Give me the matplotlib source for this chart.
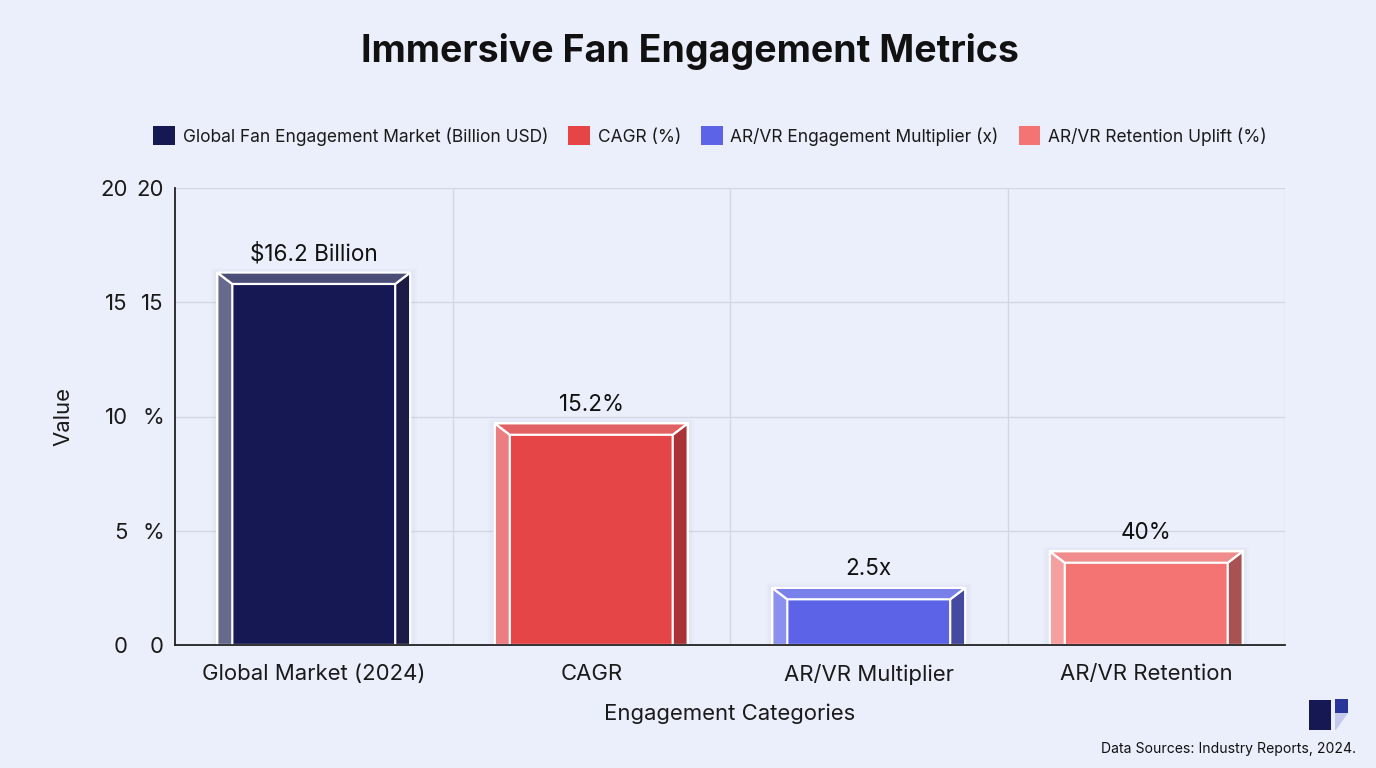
import matplotlib
matplotlib.use("Agg")
import matplotlib.pyplot as plt
from matplotlib.patches import Polygon, Rectangle
from matplotlib.patches import Patch

plt.rcParams['font.family'] = ['Inter', 'DejaVu Sans']

# ---- data ----
categories = ["Global Market (2024)", "CAGR", "AR/VR Multiplier", "AR/VR Retention"]
bar_heights = [16.3, 9.7, 2.5, 4.1]
bar_labels = ["\\$16.2 Billion", "15.2%", "2.5x", "40%"]
legend_labels = ["Global Fan Engagement Market (Billion USD)", "CAGR (%)",
                 "AR/VR Engagement Multiplier (x)", "AR/VR Retention Uplift (%)"]
ytick_values = [0, 5, 10, 15, 20]
ytick_labels_inner = ["0", "%", "%", "15", "20"]
ytick_labels_outer = ["0", "5", "10", "15", "20"]

# ---- styles ----
face_colors = ["#151852", "#e64547", "#5d63e6", "#f47473"]
left_colors = ["#676a8c", "#ec7d80", "#8b90ee", "#f5a0a0"]
top_colors = ["#4b4f78", "#e26163", "#7a80ea", "#f08c8c"]
right_colors = ["#1b1b45", "#a93335", "#45499f", "#a95253"]
bg = "#ebeffb"

fig = plt.figure(figsize=(13.76, 7.68), dpi=100, facecolor=bg)
ax = fig.add_axes([175/1376, 1-645/768, 1110/1376, 457/768])
ax.set_facecolor(bg)

x = list(range(len(categories)))
width = 0.695
bars = ax.bar(x, bar_heights, width=width, color=face_colors, zorder=3,
              edgecolor="white", linewidth=1.6)

bx = 0.054
by = 0.5
for i, b in enumerate(bars):
    x0 = b.get_x()
    x1 = x0 + b.get_width()
    h = b.get_height()
    # soft shadow
    for k, a in enumerate([0.035, 0.025, 0.015]):
        pad = 0.008 * (k + 1)
        ax.add_patch(Rectangle((x0 - pad, 0), (x1 - x0) + 2 * pad, h + pad * 8,
                               facecolor="#5a6080", alpha=a, edgecolor="none", zorder=2))
    left = Polygon([(x0, 0), (x0, h), (x0 + bx, h - by), (x0 + bx, 0)], closed=True,
                   facecolor=left_colors[i], edgecolor="white", linewidth=1.6, zorder=4)
    right = Polygon([(x1, 0), (x1, h), (x1 - bx, h - by), (x1 - bx, 0)], closed=True,
                    facecolor=right_colors[i], edgecolor="white", linewidth=1.6, zorder=4)
    top = Polygon([(x0, h), (x1, h), (x1 - bx, h - by), (x0 + bx, h - by)], closed=True,
                  facecolor=top_colors[i], edgecolor="white", linewidth=1.6, zorder=4)
    for p in (left, right, top):
        ax.add_patch(p)
    ax.annotate(bar_labels[i], (b.get_x() + b.get_width() / 2, h), xytext=(0, 13.5),
                textcoords="offset points", ha="center", va="center",
                fontsize=16.2, color="#111111", zorder=6)

ax.set_xlim(-0.5, len(categories) - 0.5)
ax.set_ylim(0, 20)
ax.set_xticks(x)
ax.set_xticklabels(categories, fontsize=15.9, color="#1a1a1a")
ax.set_xticks([i + 0.5 for i in x], minor=True)
ax.set_yticks(ytick_values)
ax.set_yticklabels(ytick_labels_inner, fontsize=15.9, color="#1a1a1a")
ax.tick_params(axis="both", which="both", length=0)
ax.tick_params(axis="y", pad=8)
ax.tick_params(axis="x", pad=14)
ax.grid(True, which="major", axis="y", color="#d3d7e3", linewidth=1, zorder=0)
ax.grid(True, which="minor", axis="x", color="#d3d7e3", linewidth=1, zorder=0)
for s in ["top", "right"]:
    ax.spines[s].set_visible(False)
for s in ["left", "bottom"]:
    ax.spines[s].set_color("#222222")
    ax.spines[s].set_linewidth(1.3)
    ax.spines[s].set_zorder(5)

sec = ax.secondary_yaxis(-0.0425)
sec.set_yticks(ytick_values)
sec.set_yticklabels(ytick_labels_outer, fontsize=15.9, color="#1a1a1a")
sec.tick_params(length=0, pad=0)
sec.spines["left"].set_visible(False)

ax.set_xlabel("Engagement Categories", fontsize=15.9, color="#1a1a1a", labelpad=13)
fig.text(63/1376, 1-416/768, "Value", rotation=90, ha="center", va="center",
         fontsize=15.9, color="#1a1a1a")

fig.text(690/1376, 1-52/768, "Immersive Fan Engagement Metrics", ha="center", va="center",
         fontsize=27, fontweight="bold", color="#111111")

handles = [Patch(facecolor=c, edgecolor="none") for c in face_colors]
fig.legend(handles, legend_labels, loc="center", bbox_to_anchor=(710/1376, 1-136/768),
           ncol=4, frameon=False, fontsize=12.5, handlelength=1.25, handleheight=1.25,
           handletextpad=0.45, columnspacing=1.15, labelcolor="#1a1a1a")

fig.text(1356/1376, 1-749/768, "Data Sources: Industry Reports, 2024.", ha="right",
         va="center", fontsize=10.1, color="#111111")

# logo
W, H = 1376, 768
fig.patches.append(Rectangle((1309/W, 1-730/H), 22/W, 30/H, transform=fig.transFigure,
                             facecolor="#151852", edgecolor="none"))
fig.patches.append(Rectangle((1335/W, 1-713/H), 13/W, 14/H, transform=fig.transFigure,
                             facecolor="#2a3599", edgecolor="none"))
fig.patches.append(Polygon([(1335/W, 1-713/H), (1348/W, 1-713/H), (1336/W, 1-730/H), (1335/W, 1-730/H)],
                           closed=True, transform=fig.transFigure,
                           facecolor="#c5c9ee", edgecolor="none"))

fig.savefig("out.png", dpi=100, facecolor=bg)
